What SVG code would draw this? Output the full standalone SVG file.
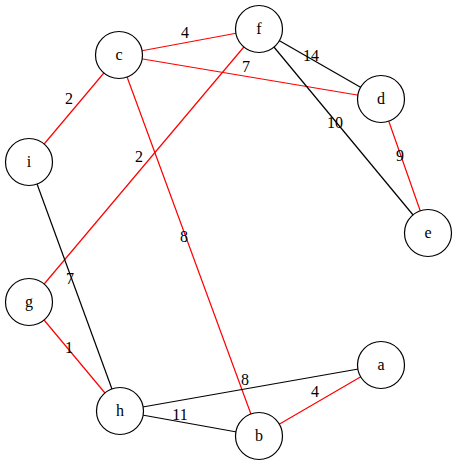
<svg xmlns="http://www.w3.org/2000/svg" width="459" height="465" viewBox="0 0 459 465">
<style>
text{font-family:"Liberation Serif","Times New Roman",serif;font-size:16px;text-anchor:middle;fill:#000}
.n circle{fill:#fff;stroke:#000;stroke-width:1.2}
.r{stroke:#f00;stroke-width:1.2;fill:none}
.k{stroke:#000;stroke-width:1.2;fill:none}
</style>
<rect width="459" height="465" fill="#fff"/>
<g id="edges">
<line class="r" x1="119" y1="55" x2="259" y2="29"/>
<line class="r" x1="119" y1="55" x2="381" y2="99"/>
<line class="k" x1="259" y1="29" x2="381" y2="99"/>
<line class="k" x1="259" y1="29" x2="428" y2="233"/>
<line class="r" x1="381" y1="99" x2="428" y2="233"/>
<line class="r" x1="119" y1="55" x2="29" y2="162"/>
<line class="r" x1="259" y1="29" x2="29" y2="302"/>
<line class="r" x1="119" y1="55" x2="259" y2="436"/>
<line class="k" x1="29" y1="162" x2="120" y2="411"/>
<line class="r" x1="29" y1="302" x2="120" y2="411"/>
<line class="k" x1="120" y1="411" x2="381" y2="365"/>
<line class="r" x1="381" y1="365" x2="259" y2="436"/>
<line class="k" x1="120" y1="411" x2="259" y2="436"/>
<text x="185" y="38">4</text>
<text x="246" y="72">7</text>
<text x="311" y="61">14</text>
<text x="335" y="128">10</text>
<text x="400" y="161">9</text>
<text x="69" y="104">2</text>
<text x="139" y="162">2</text>
<text x="184" y="242">8</text>
<text x="70" y="284">7</text>
<text x="69" y="353">1</text>
<text x="245" y="385">8</text>
<text x="315" y="397">4</text>
<text x="180" y="420">11</text>
</g>
<g id="node-c" class="n"><circle cx="119" cy="55" r="23.5"/><text x="119" y="60">c</text></g>
<g id="node-f" class="n"><circle cx="259" cy="29" r="23.5"/><text x="259" y="34">f</text></g>
<g id="node-d" class="n"><circle cx="381" cy="99" r="23.5"/><text x="381" y="104">d</text></g>
<g id="node-e" class="n"><circle cx="428" cy="233" r="23.5"/><text x="428" y="238">e</text></g>
<g id="node-i" class="n"><circle cx="29" cy="162" r="23.5"/><text x="29" y="167">i</text></g>
<g id="node-g" class="n"><circle cx="29" cy="302" r="23.5"/><text x="29" y="307">g</text></g>
<g id="node-h" class="n"><circle cx="120" cy="411" r="23.5"/><text x="120" y="416">h</text></g>
<g id="node-b" class="n"><circle cx="259" cy="436" r="23.5"/><text x="259" y="441">b</text></g>
<g id="node-a" class="n"><circle cx="381" cy="365" r="23.5"/><text x="381" y="370">a</text></g>
</svg>
